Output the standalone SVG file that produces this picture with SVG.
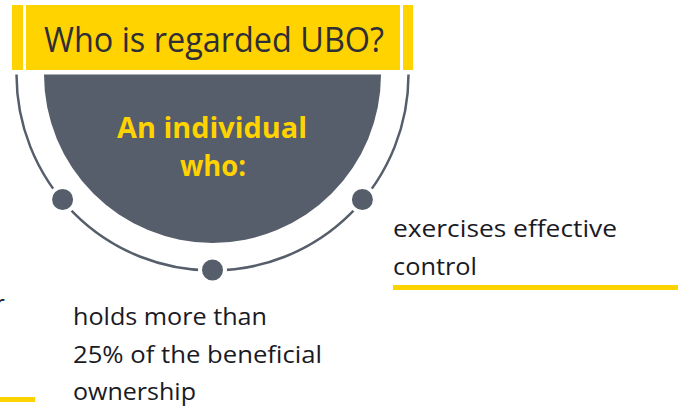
<svg xmlns="http://www.w3.org/2000/svg" width="683" height="408" viewBox="0 0 683 408">
<style>
.yel{fill:#FFD300}
.gray{fill:#555e6a}
.ring{fill:none;stroke:#555e6a;stroke-width:2.5}
.dot{fill:#555e6a;stroke:#ffffff;stroke-width:4}
.title{font-family:"Open Sans","Liberation Sans",sans-serif;font-size:35px;fill:#2e2e38}
.head{font-family:"Open Sans","Liberation Sans",sans-serif;font-size:29px;font-weight:700;fill:#FFD300}
.body{font-family:"Open Sans","Liberation Sans",sans-serif;font-size:24px;fill:#1a1a24}
</style>
<rect width="683" height="408" fill="#ffffff"/>
<g id="header">
<rect class="yel" x="12" y="5" width="11" height="65"/>
<rect class="yel" x="26" y="5" width="374" height="65"/>
<rect class="yel" x="403" y="5" width="10" height="65"/>
<text class="title" x="44" y="52" textLength="340" lengthAdjust="spacingAndGlyphs">Who is regarded UBO?</text>
</g>
<g id="center">
<path class="gray" d="M44,74.5 A168.5,168.5 0 0 0 381,74.5 Z"/>
<text class="head" x="117" y="138" textLength="190" lengthAdjust="spacingAndGlyphs">An individual</text>
<text class="head" x="180" y="176" textLength="66" lengthAdjust="spacingAndGlyphs">who:</text>
</g>
<g id="connectors">
<path class="ring" d="M16.5,74.5 A196,196 0 0 0 408.5,74.5"/>
</g>
<g id="dot-left"><circle class="dot" cx="62.6" cy="199.5" r="12.5"/></g>
<g id="dot-right"><circle class="dot" cx="362.4" cy="199.5" r="12.5"/></g>
<g id="dot-bottom"><circle class="dot" cx="212.5" cy="270" r="12.5"/></g>
<g id="control">
<text class="body" x="393" y="237" textLength="224" lengthAdjust="spacingAndGlyphs">exercises effective</text>
<text class="body" x="393" y="275" textLength="84" lengthAdjust="spacingAndGlyphs">control</text>
<rect class="yel" x="393" y="285" width="285" height="5"/>
</g>
<g id="ownership">
<text class="body" x="73" y="325" textLength="194" lengthAdjust="spacingAndGlyphs">holds more than</text>
<text class="body" x="73" y="362.5" textLength="249" lengthAdjust="spacingAndGlyphs">25% of the beneficial</text>
<text class="body" x="73" y="400" textLength="123" lengthAdjust="spacingAndGlyphs">ownership</text>
</g>
<g id="left-fragment">
<text class="body" x="-5" y="312">r</text>
<rect class="yel" x="0" y="397" width="35" height="5"/>
</g>
</svg>
